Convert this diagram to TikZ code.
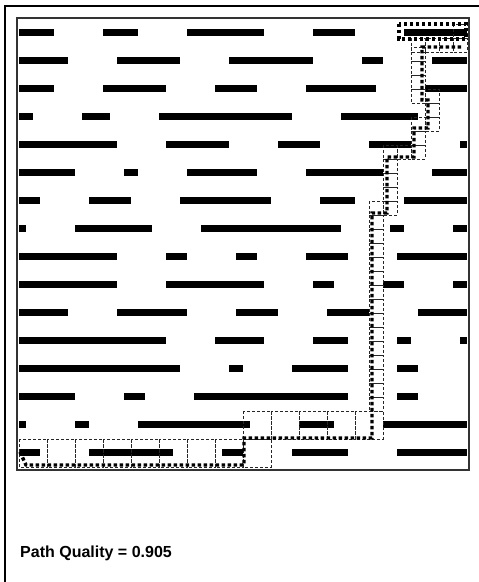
\documentclass[tikz,border=0pt]{standalone}
\usepackage{fontspec}
\setmainfont{Liberation Sans}
\tikzset{
  wall/.style={fill=black},
  cellbox/.style={draw=black!85, line width=0.7pt, dash pattern=on 3pt off 2pt},
  trail/.style={draw=black, line width=3.4pt, dash pattern=on 3.4pt off 2.6pt},
}
\begin{document}
\begin{tikzpicture}[x=1pt,y=-1pt]
        \useasboundingbox (0,0) rectangle (479,582);
        % window edge and field
        \draw[line width=2.5pt] (5,582) -- (5,6) -- (479,6);
        \draw[line width=1.2pt, black!80] (17,18) rectangle (469,470);
        % walls: row/{from/to}, in steps of 7
        \foreach \r/\walls in {1/{0/5,12/17,24/35,42/48,55/64},
                               2/{0/7,14/23,30/42,49/52,59/64},
                               3/{0/5,12/21,28/34,41/51,58/64},
                               4/{0/2,9/13,20/39,46/57},
                               5/{0/14,21/30,37/43,50/56,63/64},
                               6/{0/8,15/17,24/34,41/52,59/64},
                               7/{0/3,10/16,23/36,43/48,55/64},
                               8/{0/1,8/19,26/46,53/55,62/64},
                               9/{0/14,21/24,31/34,41/47,54/64},
                               10/{0/14,21/35,42/45,52/55,62/64},
                               11/{0/7,14/24,31/37,44/50,57/64},
                               12/{0/21,28/35,42/47,54/56,63/64},
                               13/{0/23,30/32,39/47,54/57},
                               14/{0/8,15/18,25/47,54/57},
                               15/{0/1,8/10,17/33,40/45,52/64},
                               16/{0/3,10/22,29/32,39/47,54/64}}
          \foreach \a/\b in \walls
            \fill[wall] ({19+7*\a},{29+28*(\r-1)}) rectangle ({19+7*\b},{36+28*(\r-1)});
        % visited cells
        \foreach \c in {0,...,8} \draw[cellbox] ({19+28*\c},439) rectangle +(28,28);
        \foreach \c in {8,...,12} \draw[cellbox] ({19+28*\c},411) rectangle +(28,28);
        \foreach \j in {13,...,27} \draw[cellbox] (369,{19+14*\j}) rectangle +(14,14);
        \foreach \j in {9,...,13} \draw[cellbox] (383,{19+14*\j}) rectangle +(14,14);
        \draw[cellbox] (397,145) rectangle +(14,14);
        \foreach \j in {7,8,9} \draw[cellbox] (411,{19+14*\j}) rectangle +(14,14);
        \foreach \j in {5,6,7} \draw[cellbox] (425,{19+14*\j}) rectangle +(14,14);
        \foreach \j in {2,...,5} \draw[cellbox] (411,{19+14*\j}) rectangle +(14,14);
        \foreach \i in {28,...,31} \draw[cellbox] ({19+14*\i},38) rectangle +(14,14);
        \draw[cellbox] (453,24) rectangle +(14,14);
        % path
        \draw[trail] (20,452) -- (26,465) -- (244,465) -- (244,438) -- (372,438)
          -- (372,213) -- (387,213) -- (387,157) -- (414,157) -- (414,128)
          -- (428,128) -- (428,100) -- (422,100) -- (422,47) -- (462,47);
        \draw[trail] (399,24) rectangle (466,39);
        \node[anchor=base west, inner sep=0pt, font=\bfseries\fontsize{16}{18}\selectfont] (quality) at (20,557) {Path Quality = 0.905};
\end{tikzpicture}
\end{document}
